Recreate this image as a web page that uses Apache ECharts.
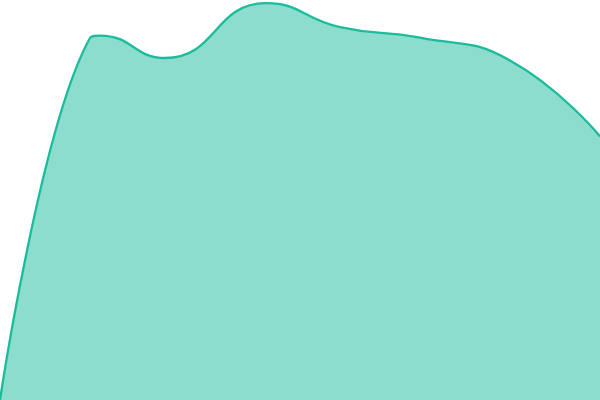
<!DOCTYPE html>
<html>
<head>
<meta charset="utf-8">
<script src="https://cdn.jsdelivr.net/npm/echarts@6/dist/echarts.min.js"></script>
<style>
  html, body { margin: 0; padding: 0; background: #fff; }
  #chart { width: 600px; height: 400px; }
</style>
</head>
<body>
<div id="chart"></div>
<script>
// values (x on a 0-60 scale, y on 0-100)
var xs = [0, 9, 10, 16.5, 26.6, 34, 42, 51, 60];
var ys = [0, 90.5, 91.1, 85.5, 99.2, 93.2, 90.6, 84.9, 65.9];

var points = [];
for (var i = 0; i < xs.length; i++) {
  points.push([xs[i], ys[i]]);
}

var chart = echarts.init(document.getElementById('chart'));

chart.setOption({
  animation: false,
  grid: { left: 0, right: 0, top: 0, bottom: 0 },
  xAxis: {
    type: 'value',
    min: 0,
    max: 60,
    show: false
  },
  yAxis: {
    type: 'value',
    min: 0,
    max: 100,
    show: false
  },
  series: [
    {
      type: 'line',
      data: points,
      smooth: 0.5,
      symbol: 'none',
      lineStyle: { color: '#1abc9c', width: 2.3 },
      areaStyle: { color: '#1abc9c', opacity: 0.5 }
    }
  ]
});
</script>
</body>
</html>
